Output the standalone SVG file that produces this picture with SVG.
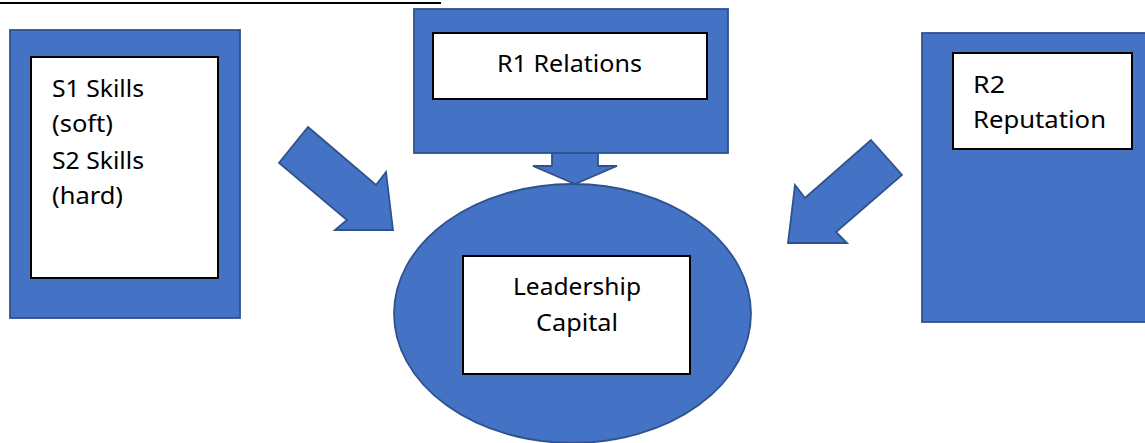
<svg xmlns="http://www.w3.org/2000/svg" width="1145" height="443" viewBox="0 0 1145 443">
  <style>
    .blue { fill: #4472C4; stroke: #2F528F; stroke-width: 1.8; }
    .card { fill: #FFFFFF; stroke: #000000; stroke-width: 2; }
    .label { font-family: "Noto Sans", "Liberation Sans", sans-serif; font-size: 23px; fill: #000000; }
  </style>

  <!-- heading underline (text sits above the page edge) -->
  <line x1="0" y1="3" x2="441" y2="3" stroke="#000000" stroke-width="2"/>

  <!-- arrows feeding into Leadership Capital -->
  <g id="connectors">
    <polygon class="blue" points="308,127 376,185 386,172 393,230 335,230 347,220 279,163"/>
    <polygon class="blue" points="871,140 902,175 836,232 847,243 788,243 795,185 805,198"/>
    <polygon class="blue" points="552,153 598,153 598,166 617,166 575,184 533,166 552,166"/>
  </g>

  <g id="skills">
    <rect class="blue" x="10" y="30" width="230" height="288"/>
    <rect class="card" x="31" y="57" width="187" height="221"/>
    <text class="label" x="52" y="97" textLength="92" lengthAdjust="spacingAndGlyphs">S1 Skills</text>
    <text class="label" x="52" y="132" textLength="61" lengthAdjust="spacingAndGlyphs">(soft)</text>
    <text class="label" x="52" y="169" textLength="92" lengthAdjust="spacingAndGlyphs">S2 Skills</text>
    <text class="label" x="52" y="204" textLength="71" lengthAdjust="spacingAndGlyphs">(hard)</text>
  </g>

  <g id="relations">
    <rect class="blue" x="414" y="9" width="314" height="144"/>
    <rect class="card" x="433" y="33" width="274" height="66"/>
    <text class="label" x="497" y="72" textLength="145" lengthAdjust="spacingAndGlyphs">R1 Relations</text>
  </g>

  <g id="reputation">
    <rect class="blue" x="922" y="33" width="226" height="289"/>
    <rect class="card" x="953" y="53" width="179" height="96"/>
    <text class="label" x="973" y="93" textLength="32" lengthAdjust="spacingAndGlyphs">R2</text>
    <text class="label" x="973" y="128" textLength="133" lengthAdjust="spacingAndGlyphs">Reputation</text>
  </g>

  <g id="leadership-capital">
    <ellipse class="blue" cx="572.5" cy="313.5" rx="178.5" ry="129.5"/>
    <rect class="card" x="463" y="256" width="227" height="118"/>
    <text class="label" x="513" y="295" textLength="128" lengthAdjust="spacingAndGlyphs">Leadership</text>
    <text class="label" x="536" y="331" textLength="82" lengthAdjust="spacingAndGlyphs">Capital</text>
  </g>
</svg>
